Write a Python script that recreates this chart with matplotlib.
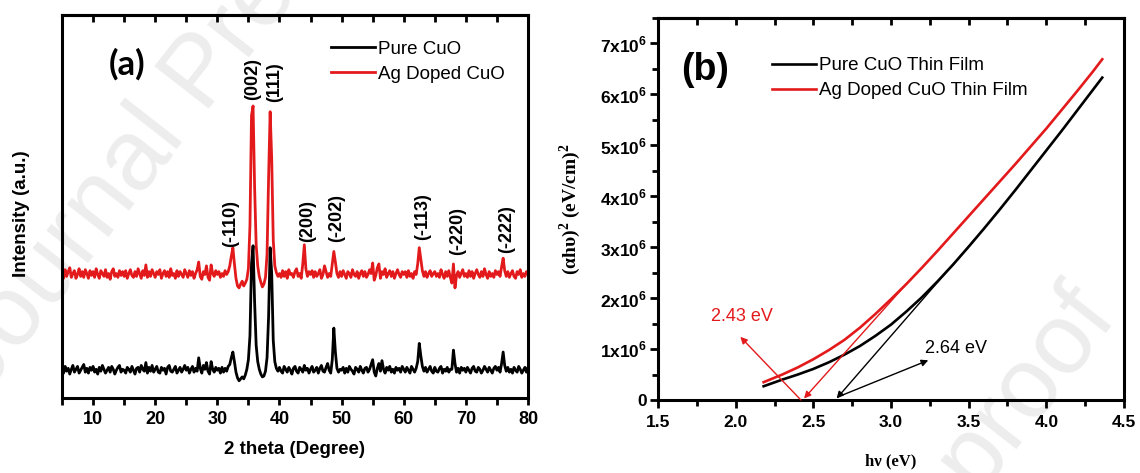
import numpy as np
import matplotlib
matplotlib.use("Agg")
import matplotlib.pyplot as plt
from matplotlib.ticker import MultipleLocator

plt.rcParams['font.family'] = ['Liberation Sans', 'DejaVu Sans']
plt.rcParams['mathtext.fontset'] = 'custom'
plt.rcParams['mathtext.rm'] = 'Liberation Sans:bold'
plt.rcParams['mathtext.bf'] = 'Liberation Serif:bold'

# ---- (a) XRD patterns, 2 theta 5..80 in 0.25 deg steps (a.u.)
two_theta = np.arange(5, 80.01, 0.25)

pure_xrd = [
    30, 26, 33, 28, 31, 25, 30, 34, 27, 30, 33, 26, 29, 32, 35, 27, 31, 26, 32, 29,
    33, 27, 30, 25, 32, 28, 34, 30, 26, 29, 32, 27, 33, 30, 25, 29, 32, 34, 27, 30,
    29, 26, 32, 30, 27, 33, 29, 25, 31, 32, 27, 34, 30, 28, 37, 26, 32, 28, 34, 27,
    30, 33, 27, 26, 32, 29, 31, 25, 32, 34, 28, 27, 30, 33, 26, 29, 32, 27, 30, 34,
    29, 32, 26, 30, 33, 27, 31, 28, 42, 31, 26, 34, 30, 37, 28, 25, 38, 30, 27, 32,
    29, 31, 26, 32, 27, 31, 28, 33, 35, 42, 48, 38, 27, 21, 18, 20, 22, 20, 24, 30,
    40, 65, 140, 159, 100, 55, 38, 30, 25, 22, 23, 28, 42, 85, 157, 130, 60, 38, 31, 28,
    32, 28, 26, 33, 30, 27, 32, 29, 25, 31, 33, 28, 26, 32, 30, 27, 34, 29, 31, 26,
    30, 33, 27, 29, 32, 26, 31, 34, 28, 27, 32, 36, 29, 26, 40, 73, 48, 31, 27, 30,
    29, 32, 26, 31, 27, 33, 30, 28, 25, 32, 30, 27, 33, 29, 26, 31, 32, 27, 30, 35,
    40, 27, 23, 31, 36, 28, 39, 30, 26, 32, 29, 33, 27, 30, 26, 32, 29, 31, 27, 33,
    30, 27, 32, 29, 26, 33, 30, 27, 31, 38, 57, 44, 33, 28, 32, 27, 30, 33, 28, 26,
    32, 28, 27, 31, 33, 26, 30, 28, 32, 27, 30, 30, 50, 36, 27, 31, 26, 32, 29, 31,
    27, 32, 29, 26, 31, 33, 28, 27, 32, 30, 26, 29, 33, 30, 27, 32, 29, 26, 31, 33,
    29, 32, 27, 36, 48, 34, 28, 32, 27, 30, 26, 32, 29, 27, 33, 30, 26, 29, 32, 27,
    32,
]

ag_xrd = [
    130, 125, 134, 127, 132, 136, 126, 130, 133, 125, 129, 135, 127, 132, 126, 134, 130, 125, 133, 128,
    132, 126, 135, 129, 125, 133, 130, 127, 134, 126, 130, 124, 132, 135, 127, 130, 126, 133, 128, 132,
    127, 133, 125, 130, 134, 128, 126, 132, 127, 135, 130, 125, 133, 128, 139, 126, 132, 127, 134, 130,
    126, 132, 129, 134, 125, 130, 133, 127, 132, 126, 135, 128, 130, 125, 133, 127, 132, 129, 126, 134,
    130, 126, 133, 128, 132, 125, 130, 134, 142, 127, 124, 132, 129, 138, 126, 123, 139, 130, 127, 133,
    129, 132, 126, 130, 127, 133, 129, 132, 138, 148, 157, 140, 125, 117, 115, 119, 122, 117, 120, 124,
    135, 180, 295, 305, 220, 160, 138, 127, 121, 116, 119, 126, 150, 230, 299, 250, 165, 138, 131, 127,
    130, 126, 133, 127, 132, 125, 134, 129, 130, 126, 132, 135, 127, 130, 125, 140, 160, 135, 127, 132,
    129, 133, 126, 132, 127, 130, 134, 125, 129, 138, 132, 126, 130, 127, 140, 153, 142, 130, 126, 132,
    127, 133, 129, 125, 132, 130, 126, 134, 129, 127, 132, 125, 130, 133, 127, 132, 126, 129, 134, 130,
    141, 123, 128, 136, 140, 125, 132, 129, 135, 126, 130, 133, 127, 132, 125, 130, 134, 129, 126, 132,
    129, 132, 126, 133, 127, 130, 125, 132, 129, 140, 157, 145, 133, 127, 132, 126, 130, 133, 127, 130,
    132, 127, 130, 126, 134, 129, 125, 132, 127, 133, 126, 120, 140, 115, 128, 132, 126, 130, 134, 127,
    130, 126, 133, 127, 132, 125, 130, 134, 129, 126, 132, 127, 135, 129, 125, 132, 127, 130, 126, 133,
    129, 132, 127, 137, 146, 133, 127, 132, 126, 130, 133, 127, 125, 132, 129, 134, 126, 130, 127, 132,
    130,
]

peak_labels = ['(-110)', '(002)', '(111)', '(200)', '(-202)', '(-113)', '(-220)', '(-222)']
peak_label_x = [32.2, 35.6, 39.2, 44.5, 49.2, 63.1, 68.7, 76.6]
peak_label_y = [158, 311, 309, 163, 163, 165, 149, 151]

# ---- (b) Tauc plot, (alpha h nu)^2 in units of 1e6 (eV/cm)^2
hv = [2.18, 2.3, 2.4, 2.5, 2.6, 2.7, 2.8, 2.9, 3.0, 3.1, 3.2, 3.3,
      3.4, 3.5, 3.6, 3.7, 3.8, 3.9, 4.0, 4.1, 4.2, 4.3, 4.36]
pure_tauc = [0.27, 0.40, 0.50, 0.61, 0.74, 0.89, 1.06, 1.26, 1.48, 1.74, 2.02, 2.33,
             2.66, 3.01, 3.37, 3.74, 4.12, 4.51, 4.90, 5.29, 5.69, 6.09, 6.33]
ag_tauc = [0.35, 0.50, 0.64, 0.80, 0.98, 1.18, 1.42, 1.69, 1.98, 2.28, 2.60, 2.93,
           3.27, 3.61, 3.95, 4.29, 4.63, 4.98, 5.33, 5.70, 6.07, 6.45, 6.69]

# linear fits (start on curve -> x intercept)
ag_fit_x = [3.10, 2.44]
ag_fit_y = [2.28, 0.03]
pure_fit_x = [3.55, 2.65]
pure_fit_y = [3.19, 0.03]
# pointer arrows (tail -> head)
ag_ptr_x = [2.42, 2.03]
ag_ptr_y = [0.0, 1.24]
pure_ptr_x = [2.69, 3.24]
pure_ptr_y = [0.10, 0.78]

ytick_vals = [0, 1, 2, 3, 4, 5, 6, 7]
ytick_text = ['0'] + ['%dx10$^6$' % v for v in ytick_vals[1:]]

RED = '#e31a1c'
SPINE_W = 2.2

fig = plt.figure(figsize=(11.4, 4.73), dpi=100)

# watermark behind everything
for wx, wy in [(-0.013, 0.165), (0.564, -0.96)]:
    fig.text(wx, wy, 'Journal Pre-proof', rotation=52, rotation_mode='anchor',
             ha='left', va='baseline', fontsize=72, color='#ededed', zorder=-5)

ax1 = fig.add_axes([62 / 1140, 75 / 473, 466 / 1140, 383 / 473])
ax2 = fig.add_axes([658 / 1140, 73 / 473, 466 / 1140, 382 / 473])
for ax in (ax1, ax2):
    ax.patch.set_alpha(0)
    for s in ax.spines.values():
        s.set_linewidth(SPINE_W)

# ---------------- panel (a)
ln_ag, = ax1.plot(two_theta, ag_xrd, color=RED, lw=2.0)
ln_pure, = ax1.plot(two_theta, pure_xrd, color='black', lw=2.0)
ax1.set_xlim(5, 80)
ax1.set_ylim(0, 400)
ax1.set_yticks([])
ax1.xaxis.set_major_locator(MultipleLocator(10))
ax1.xaxis.set_minor_locator(MultipleLocator(5))
ax1.tick_params(axis='x', which='both', direction='out', length=5, width=2, pad=4)
ax1.tick_params(axis='x', labelsize=13)
for lab in ax1.get_xticklabels():
    lab.set_fontweight('bold')
top1 = ax1.secondary_xaxis('top')
top1.xaxis.set_major_locator(MultipleLocator(10))
top1.xaxis.set_minor_locator(MultipleLocator(5))
top1.tick_params(which='both', direction='in', length=5, width=2, labeltop=False)
top1.spines['top'].set_linewidth(SPINE_W)

for lab, x, y in zip(peak_labels, peak_label_x, peak_label_y):
    ax1.text(x, y, lab, rotation=90, ha='center', va='bottom', fontsize=13, fontweight='bold')

ax1.legend([ln_pure, ln_ag], ['Pure CuO', 'Ag Doped CuO'], loc='upper left',
           bbox_to_anchor=(0.577, 0.933), frameon=False, fontsize=13.5, handlelength=2.35,
           handletextpad=0.15, labelspacing=0.42, borderpad=0, borderaxespad=0)
ax1.text(0.139, 0.872, '(a)', transform=ax1.transAxes, ha='center', va='center',
         fontsize=25, fontweight='bold', family='Lato')
ax1.set_xlabel('2 theta (Degree)', fontsize=13.5, fontweight='bold')
ax1.xaxis.set_label_coords(0.5, -0.112)
ax1.set_ylabel('Intensity (a.u.)', fontsize=13.5, fontweight='bold')
ax1.yaxis.set_label_coords(-0.069, 0.48)

# ---------------- panel (b)
pure_y = np.array(pure_tauc) * 1e6
ag_y = np.array(ag_tauc) * 1e6
lb_pure, = ax2.plot(hv, pure_y, color='black', lw=1.9)
lb_ag, = ax2.plot(hv, ag_y, color=RED, lw=1.9)

arrow_kw = dict(arrowstyle='-|>', lw=1.0, mutation_scale=10, shrinkA=0, shrinkB=0)
for fx, fy, col in [(ag_fit_x, ag_fit_y, RED), (pure_fit_x, pure_fit_y, 'black'),
                    (ag_ptr_x, ag_ptr_y, RED), (pure_ptr_x, pure_ptr_y, 'black')]:
    ax2.annotate('', xy=(fx[1], fy[1] * 1e6), xytext=(fx[0], fy[0] * 1e6),
                 arrowprops=dict(arrow_kw, color=col))
ax2.text(2.04, 1.63e6, '2.43 eV', color=RED, fontsize=13, ha='center', va='center')
ax2.text(3.22, 1.02e6, '2.64 eV', color='black', fontsize=13, ha='left', va='center')

ax2.set_xlim(1.5, 4.5)
ax2.set_ylim(0, 7.5e6)
ax2.xaxis.set_major_locator(MultipleLocator(0.5))
ax2.xaxis.set_minor_locator(MultipleLocator(0.25))
ax2.set_yticks([v * 1e6 for v in ytick_vals])
ax2.set_yticklabels(ytick_text)
ax2.yaxis.set_minor_locator(MultipleLocator(0.5e6))
ax2.xaxis.set_major_formatter(plt.FormatStrFormatter('%.1f'))
ax2.tick_params(axis='both', which='major', direction='out', length=6, width=2, labelsize=12.5)
ax2.tick_params(axis='both', which='minor', direction='out', length=4, width=2)
ax2.tick_params(axis='x', pad=5)
ax2.tick_params(axis='y', pad=2)
for lab in ax2.get_xticklabels() + ax2.get_yticklabels():
    lab.set_fontweight('bold')
top2 = ax2.secondary_xaxis('top')
top2.xaxis.set_major_locator(MultipleLocator(0.5))
top2.xaxis.set_minor_locator(MultipleLocator(0.25))
top2.tick_params(which='both', direction='in', length=5, width=2, labeltop=False)
top2.spines['top'].set_linewidth(SPINE_W)

ax2.legend([lb_pure, lb_ag], ['Pure CuO Thin Film', 'Ag Doped CuO Thin Film'], loc='upper left',
           bbox_to_anchor=(0.245, 0.898), frameon=False, fontsize=13.5, handlelength=2.35,
           handletextpad=0.15, labelspacing=0.42, borderpad=0, borderaxespad=0)
ax2.text(0.101, 0.864, '(b)', transform=ax2.transAxes, ha='center', va='center',
         fontsize=27, fontweight='bold')
ax2.set_xlabel('h\u03bd (eV)', fontsize=12, fontweight='bold', family='Liberation Serif')
ax2.xaxis.set_label_coords(0.5, -0.14)
ax2.set_ylabel('(\u03b1h\u03c5)$^{\\mathbf{2}}$ (eV/cm)$^{\\mathbf{2}}$', fontsize=14,
               fontweight='bold', family='Liberation Serif')
ax2.yaxis.set_label_coords(-0.161, 0.5)

fig.savefig('out.png', dpi=100)
